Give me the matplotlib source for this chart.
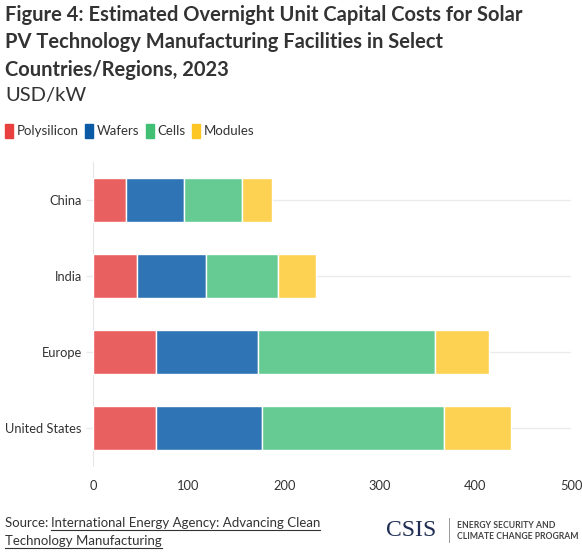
import matplotlib.pyplot as plt
import numpy as np

# data (USD/kW)
regions = ["China", "India", "Europe", "United States"]
polysilicon = [34, 46, 66, 66]
wafers = [61, 72, 107, 111]
cells = [61, 76, 185, 190]
modules = [31, 39, 56, 70]
series_names = ["Polysilicon", "Wafers", "Cells", "Modules"]
x_ticks = [0, 100, 200, 300, 400, 500]

bar_colors = ["#E96060", "#2F74B4", "#66CB92", "#FDD152"]
key_colors = ["#E8403F", "#0B5AA6", "#40BF75", "#FEC623"]
text_col = "#333333"

plt.rcParams["font.family"] = ["Lato", "DejaVu Sans"]

fig = plt.figure(figsize=(5.82, 5.55), dpi=100)
fig.patch.set_facecolor("white")
W, H = 582, 555
ax = fig.add_axes([93 / W, 1 - 466 / H, (571 - 93) / W, (466 - 162) / H])

y = np.arange(len(regions))
left = np.zeros(len(regions))
for vals, col in zip([polysilicon, wafers, cells, modules], bar_colors):
    ax.barh(y, vals, left=left, height=0.57, color=col, edgecolor="white",
            linewidth=1, zorder=3)
    left += np.array(vals)

ax.set_ylim(3.5, -0.5)
ax.set_xlim(0, 500)
ax.set_yticks(y)
ax.set_yticklabels(regions)
ax.set_xticks(x_ticks)
ax.tick_params(axis="both", labelsize=9.3, colors=text_col)
ax.tick_params(axis="x", length=0, pad=10)
ax.tick_params(axis="y", length=5, width=1, color="#EBEBEB", pad=3)
for yy in y:
    ax.axhline(yy, color="#EBEBEB", lw=1, zorder=1)
for s in ["top", "right", "bottom"]:
    ax.spines[s].set_visible(False)
ax.spines["left"].set_color("#E6E6E6")

# title block
title_lines = ["Figure 4: Estimated Overnight Unit Capital Costs for Solar",
               "PV Technology Manufacturing Facilities in Select",
               "Countries/Regions, 2023"]
for i, line in enumerate(title_lines):
    fig.text(5 / W, 1 - (15 + 27.5 * i) / H, line, fontsize=14.5,
             fontweight="bold", color=text_col, va="center")
fig.text(5 / W, 1 - 95 / H, "USD/kW", fontsize=14.5, color=text_col, va="center")

# legend keys
kx = 5
for name, col in zip(series_names, key_colors):
    fig.patches.append(plt.Rectangle((kx / W, 1 - 138 / H), 8 / W, 14 / H,
                                     transform=fig.transFigure, color=col))
    t = fig.text((kx + 12) / W, 1 - 131 / H, name, fontsize=9.5,
                 color=text_col, va="center")
    fig.canvas.draw()
    bb = t.get_window_extent()
    kx = bb.x1 + 6

# footer
fig.text(5 / W, 1 - 523 / H, "Source: ", fontsize=9.5, color=text_col, va="center")
src1 = fig.text(51 / W, 1 - 523 / H, "International Energy Agency: Advancing Clean",
                fontsize=9.5, color=text_col, va="center")
src2 = fig.text(5 / W, 1 - 541 / H, "Technology Manufacturing",
                fontsize=9.5, color=text_col, va="center")
fig.canvas.draw()
for t in [src1, src2]:
    bb = t.get_window_extent()
    fig.lines.append(plt.Line2D([bb.x0 / W, bb.x1 / W],
                                [(bb.y0 - 1) / H, (bb.y0 - 1) / H],
                                transform=fig.transFigure, color=text_col, lw=0.8))

fig.text(386 / W, 1 - 531 / H, "CSIS", family="Liberation Serif", fontsize=17,
         color="#1F2D54", va="center")
fig.lines.append(plt.Line2D([449 / W, 449 / W], [1 - 518 / H, 1 - 542 / H],
                            transform=fig.transFigure, color="#999999", lw=0.7))
fig.text(457 / W, 1 - 531 / H, "ENERGY SECURITY AND\nCLIMATE CHANGE PROGRAM",
         fontsize=6.2, color="#444444", va="center", linespacing=1.4,
         fontweight="bold")

fig.savefig("out.png", dpi=100)
